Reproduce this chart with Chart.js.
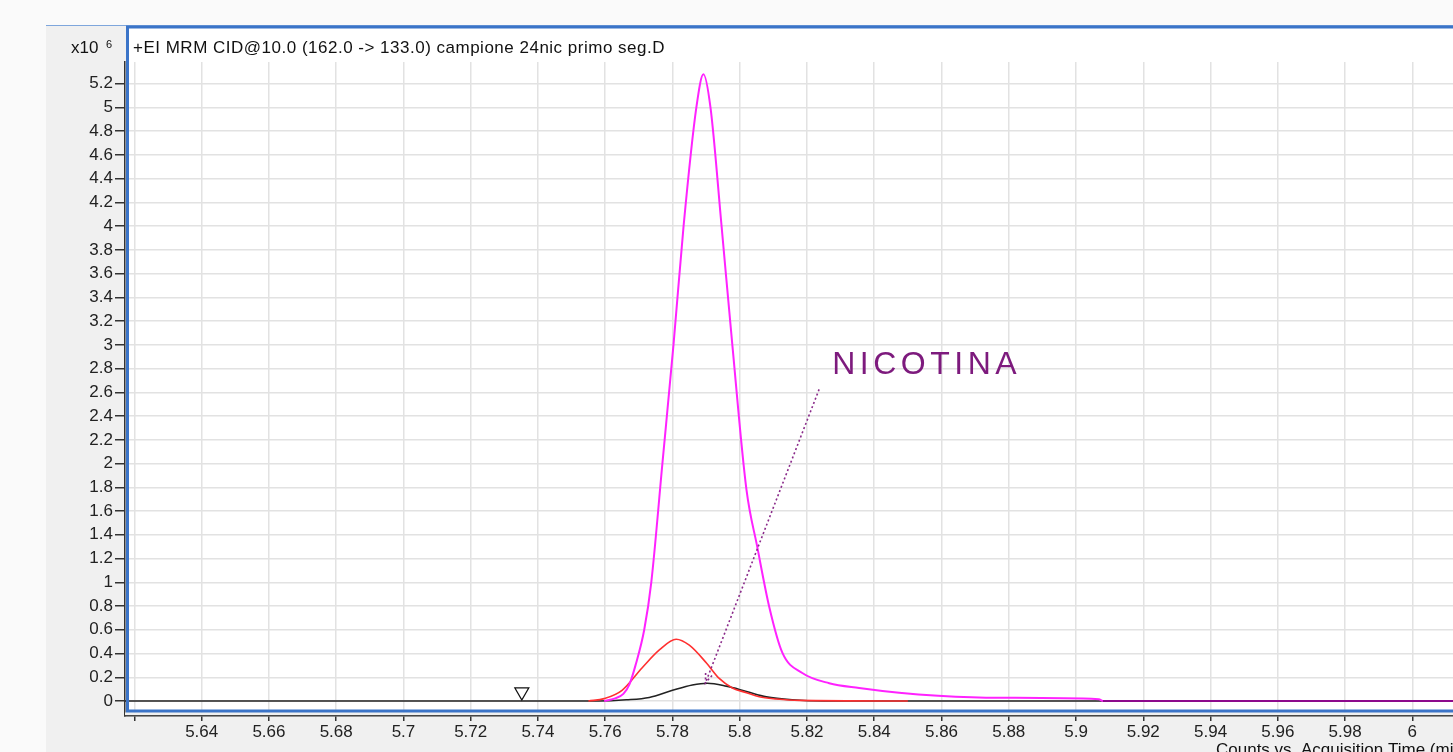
<!DOCTYPE html>
<html>
<head>
<meta charset="utf-8">
<script src="https://cdn.jsdelivr.net/npm/chart.js@4.4.1/dist/chart.umd.min.js"></script>
<style>
  html, body { margin: 0; padding: 0; background: #fafafa; overflow: hidden; }
</style>
</head>
<body>
<canvas id="chart" width="1453" height="752"></canvas>
<script>
// acquisition time (min) and counts (x10^6)
const magentaTime = [5.7597, 5.7627, 5.7654, 5.7672, 5.769, 5.7716, 5.7737, 5.777, 5.7803, 5.7833, 5.7871, 5.7892,
  5.7913, 5.7946, 5.7978, 5.802, 5.8052, 5.8088, 5.8127, 5.8186, 5.8266, 5.8355, 5.8474, 5.859, 5.8771, 5.9068, 5.908, 6.0121];
const magentaCounts = [0, 0.02, 0.06, 0.14, 0.3, 0.6, 1.0, 2.0, 3.0, 4.0, 5.0, 5.28,
  5.0, 4.0, 3.0, 1.78, 1.3, 0.79, 0.405, 0.236, 0.15, 0.11, 0.07, 0.045, 0.027, 0.015, 0, 0];

const redTime = [5.755, 5.7597, 5.765, 5.771, 5.7761, 5.7811, 5.785, 5.7901, 5.7939, 5.7978, 5.802, 5.8058, 5.8109, 5.8177, 5.85];
const redCounts = [0, 0.02, 0.09, 0.28, 0.43, 0.52, 0.47, 0.32, 0.19, 0.11, 0.07, 0.035, 0.017, 0.005, 0];

const blackTime = [5.6172, 5.758, 5.7663, 5.7731, 5.78, 5.7859, 5.7904, 5.796, 5.802, 5.8079, 5.8156, 5.825, 6.0121];
const blackCounts = [0, 0, 0.01, 0.03, 0.09, 0.135, 0.15, 0.125, 0.08, 0.035, 0.01, 0, 0];

const markerTime = [5.7352];
const markerCounts = [0.076];

const xMin = 5.6172, xMax = 6.0121, xStep = 0.02;
const yMin = -0.1264, yMax = 5.383, yStep = 0.2;

const title = '+EI MRM CID@10.0 (162.0 -> 133.0) campione 24nic primo seg.D';
const xTitle = 'Counts vs. Acquisition Time (min)';
const label = 'NICOTINA';
// arrow from label down to the peak, in data units
const arrowFrom = [5.8236, 2.625];
const arrowTo = [5.7898, 0.152];
const labelAt = [5.8275, 2.752];

const pts = (xs, ys) => xs.map((x, i) => ({ x, y: ys[i] }));
const FONT = '"Liberation Sans", Arial, sans-serif';

const frame = {
  id: 'frame',
  beforeDraw(chart) {
    const c = chart.ctx;
    c.save();
    c.fillStyle = '#fafafa';
    c.fillRect(0, 0, chart.width, chart.height);
    c.fillStyle = '#f0f0f0';
    c.fillRect(46, 25, chart.width - 46, chart.height - 25);
    c.fillStyle = '#7ea6dc';
    c.fillRect(46, 25, chart.width - 46, 1);
    c.fillStyle = '#ffffff';
    c.fillRect(128, 27, chart.width - 128, 685);
    c.restore();
  },
  afterDraw(chart) {
    const c = chart.ctx;
    const xs = chart.scales.x, ys = chart.scales.y;
    c.save();
    // strip between frame and x axis
    c.fillStyle = '#f0f0f0';
    c.fillRect(125, 712.5, chart.width - 125, 2.6);
    // blue frame
    c.strokeStyle = '#3b74c8';
    c.lineWidth = 3;
    c.beginPath();
    c.moveTo(chart.width, 711); c.lineTo(127.5, 711); c.lineTo(127.5, 27); c.lineTo(chart.width, 27);
    c.stroke();
    // header texts
    c.fillStyle = '#111';
    c.textBaseline = 'alphabetic';
    c.font = '17px ' + FONT;
    c.letterSpacing = '0.5px';
    c.fillText(title, 133, 53);
    c.letterSpacing = '0px';
    c.fillText('x10', 71, 53);
    c.fillText(xTitle, 1216, 755);
    c.font = '11px ' + FONT;
    c.fillText('6', 106, 48);
    // annotation
    const x1 = xs.getPixelForValue(arrowFrom[0]), y1 = ys.getPixelForValue(arrowFrom[1]);
    const x2 = xs.getPixelForValue(arrowTo[0]), y2 = ys.getPixelForValue(arrowTo[1]);
    c.strokeStyle = '#8a2a8a';
    c.lineWidth = 1.6;
    c.setLineDash([2, 2.5]);
    c.beginPath(); c.moveTo(x1, y1); c.lineTo(x2, y2); c.stroke();
    const a = Math.atan2(y2 - y1, x2 - x1);
    c.beginPath();
    c.moveTo(x2 - 10 * Math.cos(a - 0.35), y2 - 10 * Math.sin(a - 0.35));
    c.lineTo(x2, y2);
    c.lineTo(x2 - 10 * Math.cos(a + 0.35), y2 - 10 * Math.sin(a + 0.35));
    c.stroke();
    c.setLineDash([]);
    c.fillStyle = '#7d1a7d';
    c.font = '32px ' + FONT;
    c.letterSpacing = '4.5px';
    c.fillText(label, xs.getPixelForValue(labelAt[0]), ys.getPixelForValue(labelAt[1]));
    c.restore();
  }
};

new Chart(document.getElementById('chart'), {
  type: 'line',
  data: {
    datasets: [
      {
        data: pts(markerTime, markerCounts),
        showLine: false,
        pointStyle: 'triangle',
        rotation: 180,
        pointRadius: 8,
        pointBackgroundColor: '#ffffff',
        pointBorderColor: '#111',
        pointBorderWidth: 1.3
      },
      {
        data: pts(magentaTime, magentaCounts),
        borderColor: '#ff22ff',
        borderWidth: 2,
        segment: {
          borderColor: ctx => (ctx.p0.parsed.y === 0 && ctx.p1.parsed.y === 0 ? '#8c0a8c' : undefined)
        }
      },
      {
        data: pts(redTime, redCounts),
        borderColor: '#ff3030',
        borderWidth: 1.6
      },
      {
        data: pts(blackTime, blackCounts),
        borderColor: '#222',
        borderWidth: 1.6
      }
    ]
  },
  options: {
    responsive: false,
    animation: false,
    devicePixelRatio: 1,
    layout: { autoPadding: false, padding: { top: 62, left: 0, right: 0, bottom: 0 } },
    elements: {
      point: { radius: 0 },
      line: { cubicInterpolationMode: 'monotone', fill: false }
    },
    plugins: { legend: { display: false }, tooltip: { enabled: false } },
    scales: {
      x: {
        type: 'linear',
        min: xMin,
        max: xMax,
        afterFit: s => { s.height = 36; s.paddingLeft = 0; s.paddingRight = 0; },
        grid: { color: '#e2e2e2', lineWidth: 1.5, tickColor: '#333', tickLength: 5 },
        border: { color: '#333', width: 1.5 },
        ticks: {
          stepSize: xStep,
          includeBounds: false,
          autoSkip: false,
          maxRotation: 0,
          padding: 1,
          color: '#222',
          font: { family: FONT, size: 17 },
          callback: v => (Math.abs(v - 5.62) < 1e-6 ? '' : String(+v.toFixed(2)))
        }
      },
      y: {
        type: 'linear',
        min: yMin,
        max: yMax,
        afterFit: s => { s.width = 125; s.paddingTop = 0; s.paddingBottom = 0; },
        grid: { color: '#e2e2e2', lineWidth: 1.5, tickColor: '#333', tickLength: 10 },
        border: { color: '#333', width: 1.5 },
        ticks: {
          stepSize: yStep,
          includeBounds: false,
          padding: 2,
          color: '#222',
          font: { family: FONT, size: 17 },
          callback: v => String(+v.toFixed(1))
        }
      }
    }
  },
  plugins: [frame]
});
</script>
</body>
</html>
